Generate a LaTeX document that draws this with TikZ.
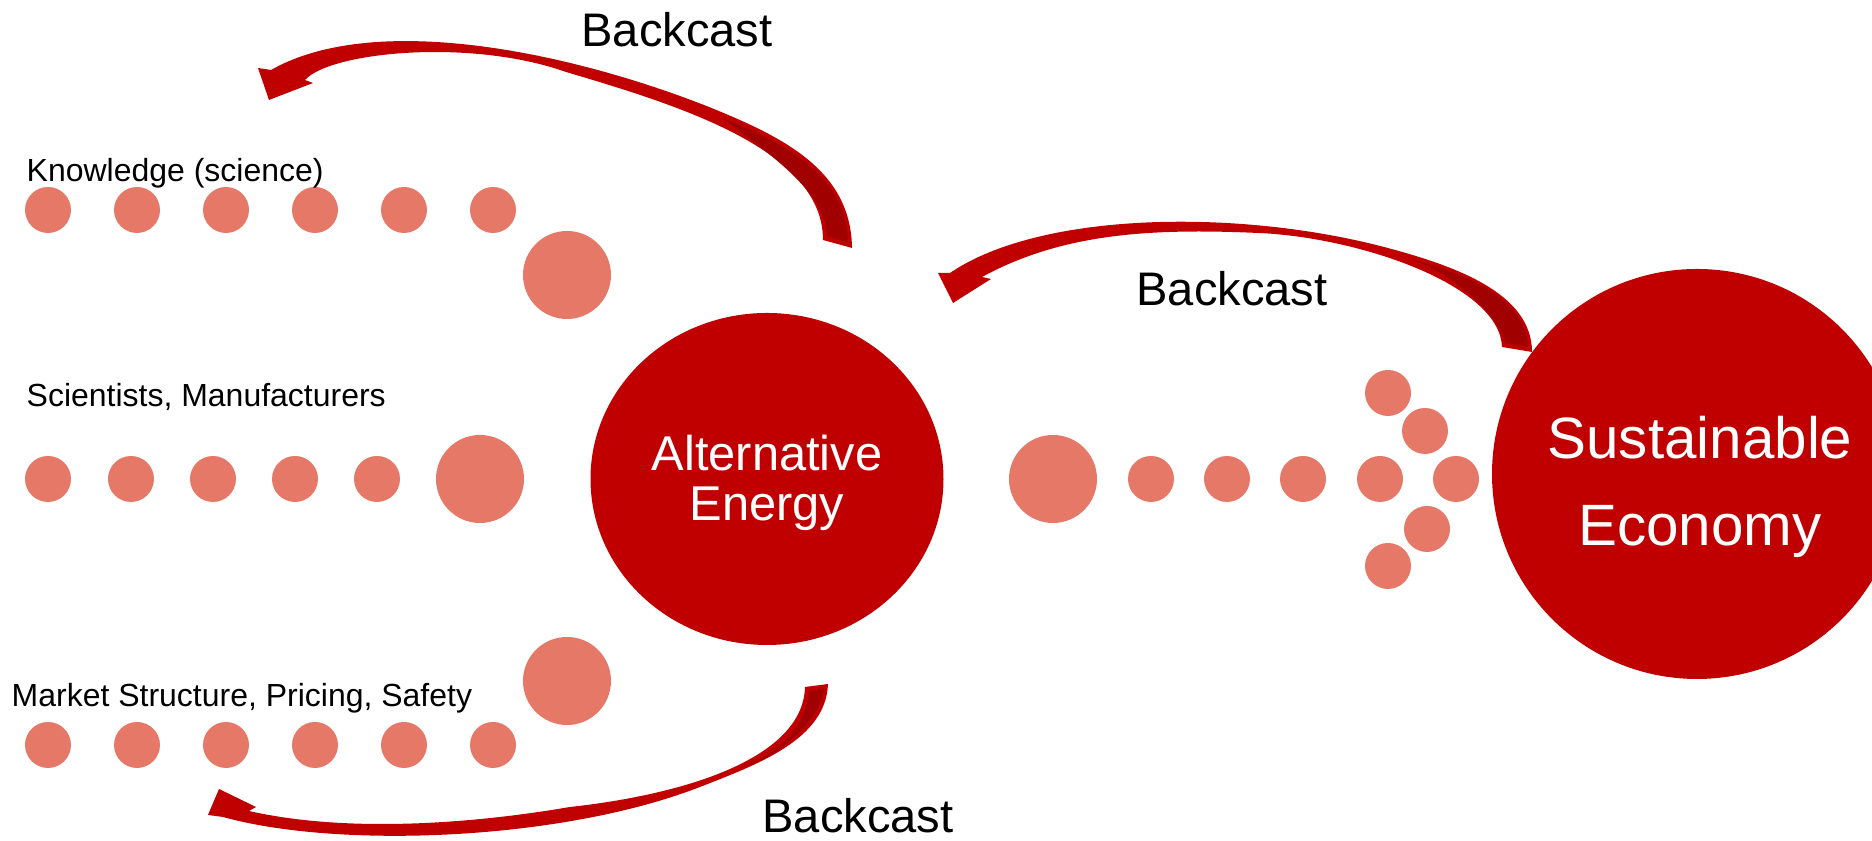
\documentclass[tikz,border=0pt]{standalone}
\usepackage{fontspec}
\setmainfont{Liberation Sans}
\usetikzlibrary{shapes.geometric}
\definecolor{deepred}{HTML}{C00000}
\definecolor{darkred}{HTML}{A00000}
\definecolor{salmon}{HTML}{E67868}
\tikzset{
  bead/.style={fill=salmon},
  blob/.style={ellipse,fill=deepred,inner sep=0pt},
  blobtext/.style={text=white,align=center,inner sep=0pt},
  lbl/.style={anchor=base west,inner sep=0pt,font=\fontsize{9.1}{11}\selectfont},
  bc/.style={anchor=base,inner sep=0pt,font=\fontsize{13.4}{16}\selectfont},
  band/.style={fill=deepred},
  ribbondark/.style={fill=darkred}
}

\begin{document}
\begin{tikzpicture}
		\useasboundingbox (0,0) rectangle (18.72,8.41);
		\node[blob,minimum width=3.53cm,minimum height=3.32cm] (ae) at (7.67,3.62) {};
		\node[blob,circle,minimum size=4.1cm] (se) at (16.97,3.67) {};
		\node[blobtext,font=\fontsize{13.9}{14.2}\selectfont] (aetext) at (7.67,3.58) {Alternative\\Energy};
		\node[blobtext,font=\fontsize{16.6}{24.6}\selectfont] (setext) at (17.00,3.54) {Sustainable\\Economy};
		% rows of dots
		\foreach \x in {0.48,1.37,2.26,3.15,4.04,4.93} {
			\fill[bead] (\x,6.31) circle (0.23);
			\fill[bead] (\x,0.96) circle (0.23);
		}
		\foreach \x in {0.48,1.31,2.13,2.95,3.77} \fill[bead] (\x,3.62) circle (0.23);
		\fill[bead] (5.67,5.66) circle (0.44);
		\fill[bead] (4.80,3.62) circle (0.44);
		\fill[bead] (5.67,1.60) circle (0.44);
		\fill[bead] (10.53,3.62) circle (0.44);
		\foreach \x in {11.51,12.27,13.03} \fill[bead] (\x,3.62) circle (0.23);
		\foreach \p in {(13.88,4.48),(14.25,4.10),(13.80,3.62),(14.56,3.62),(14.27,3.12),(13.88,2.75)}
			\fill[bead] \p circle (0.23);
		% top arrow
		\fill[band] (8.52,5.93) .. controls (8.51,6.71) and (7.83,7.04) .. (7.09,7.34)
			.. controls (5.70,7.89) and (3.75,8.30) .. (2.71,7.71)
			-- (2.58,7.73) -- (2.69,7.41) -- (3.13,7.58) -- (3.05,7.61)
			.. controls (3.30,7.89) and (4.70,8.03) .. (5.66,7.69)
			.. controls (6.81,7.35) and (8.23,6.91) .. (8.23,6.01) -- cycle;
		\fill[ribbondark] (8.27,6.05) -- (8.48,5.99) .. controls (8.46,6.69) and (7.80,6.99) .. (7.23,7.23)
			.. controls (7.70,6.86) and (8.26,6.49) .. (8.27,6.05) -- cycle;
		% middle arrow
		\fill[band] (15.32,4.89) .. controls (15.32,5.49) and (14.52,5.76) .. (13.84,5.94)
			.. controls (12.39,6.32) and (10.41,6.30) .. (9.50,5.68)
			-- (9.38,5.68) -- (9.53,5.38) -- (9.91,5.62) -- (9.82,5.64)
			.. controls (10.61,6.07) and (11.48,6.13) .. (12.58,6.08)
			.. controls (13.58,6.04) and (15.00,5.56) .. (15.02,4.94) -- cycle;
		\fill[ribbondark] (15.06,4.98) -- (15.28,4.94) .. controls (15.27,5.46) and (14.55,5.71) .. (14.05,5.83)
			.. controls (14.50,5.73) and (15.00,5.23) .. (15.06,4.98) -- cycle;
		% bottom arrow
		\fill[band] (8.28,1.57) .. controls (8.26,1.01) and (7.56,0.76) .. (7.00,0.54)
			.. controls (5.61,0.00) and (3.38,-0.08) .. (2.23,0.24)
			-- (2.08,0.26) -- (2.19,0.52) -- (2.56,0.34) -- (2.49,0.30)
			.. controls (3.46,0.08) and (4.71,0.17) .. (5.70,0.34)
			.. controls (6.80,0.46) and (8.03,0.81) .. (8.05,1.54) -- cycle;
		\fill[ribbondark] (8.09,1.50) -- (8.24,1.52) .. controls (8.18,1.13) and (7.65,0.78) .. (7.48,0.76)
			.. controls (7.85,0.93) and (8.06,1.16) .. (8.09,1.50) -- cycle;
		% labels
		\node[lbl] (know) at (0.26,6.59) {Knowledge (science)};
		\node[lbl] (sci) at (0.26,4.34) {Scientists, Manufacturers};
		\node[lbl] (mkt) at (0.11,1.34) {Market Structure, Pricing, Safety};
		\node[bc] (bctop) at (6.77,7.94) {Backcast};
		\node[bc] (bcmid) at (12.32,5.35) {Backcast};
		\node[bc] (bcbot) at (8.58,0.08) {Backcast};
	\end{tikzpicture}
\end{document}
